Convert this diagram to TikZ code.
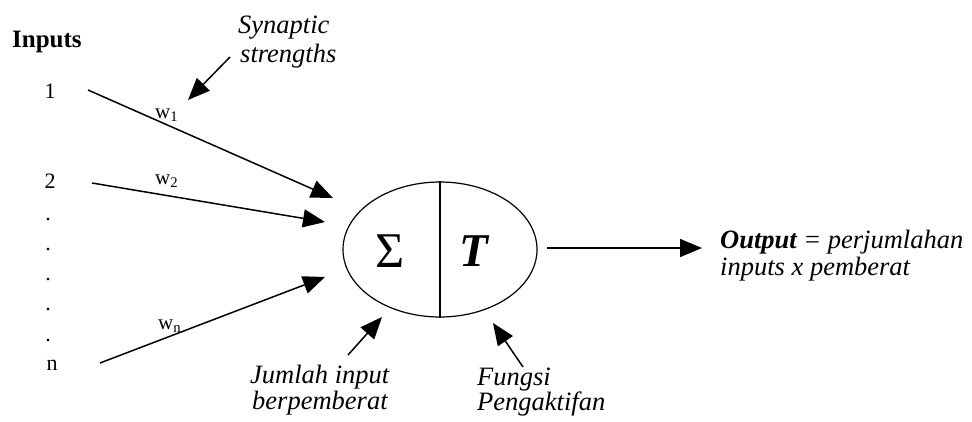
\documentclass[tikz,border=0pt]{standalone}
\usepackage{fontspec}
\setmainfont{Liberation Serif}
\usetikzlibrary{arrows.meta,shapes.geometric}
\begin{document}
\begin{tikzpicture}[x=1pt,y=-1pt,
  arr/.style={line width=1.5pt,-{Triangle[length=22pt,width=18pt]}},
  lbl/.style={font=\fontsize{26.5}{28}\selectfont\itshape,anchor=base west,inner sep=0pt},
  num/.style={font=\fontsize{22}{24}\selectfont,anchor=base,inner sep=0pt},
  wl/.style={font=\fontsize{21}{24}\selectfont,anchor=base west,inner sep=0pt}]
\useasboundingbox (0,0) rectangle (972,421);
\node[font=\fontsize{25}{26}\selectfont\bfseries,anchor=base west,inner sep=0pt] (inputs) at (12,47) {Inputs};
\node[num] (i1) at (50,98) {1};
\node[num] (i2) at (50,188) {2};
\foreach \y [count=\k] in {218,248,278,308,339}
  \node[num] (d\k) at (48,\y+2) {.};
\node[num] (in) at (52,370) {n};
\coordinate (a1s) at (88,90);
\coordinate (a1e) at (333,198);
\coordinate (a2s) at (92,183);
\coordinate (a2e) at (325,222);
\coordinate (ans) at (100,363);
\coordinate (ane) at (325,277);
\draw[arr] (a1s) -- (a1e);
\draw[arr] (a2s) -- (a2e);
\draw[arr] (ans) -- (ane);
\node[wl] (w1) at (155,118) {w\textsubscript{1}};
\node[wl] (w2) at (155,184) {w\textsubscript{2}};
\node[wl] (wn) at (158,329) {w\textsubscript{n}};
\node[lbl] (syn1) at (238,33) {Synaptic};
\node[lbl] (syn2) at (240,62) {strengths};
\coordinate (synS) at (230,57);
\coordinate (synE) at (188,100);
\draw[arr] (synS) -- (synE);
\node[draw,ellipse,line width=1.2pt,minimum width=194pt,minimum height=135pt,inner sep=0pt] (neuron) at (440,249.5) {};
\draw[line width=1.2pt] (neuron.north) -- (neuron.south);
\node[font=\fontsize{50}{52}\selectfont,inner sep=0pt] (sigma) at (390,251.5) {Σ};
\node[font=\fontsize{47}{48}\selectfont\bfseries\itshape,inner sep=0pt] (T) at (474,251.5) {T};
\coordinate (outS) at (547,248);
\coordinate (outE) at (702,248);
\draw[arr] (outS) -- (outE);
\node[lbl] (out1) at (720,248) {\textbf{Output} = perjumlahan};
\node[lbl] (out2) at (720,275) {inputs x pemberat};
\node[lbl] (jum1) at (250,383) {Jumlah input};
\node[lbl] (jum2) at (252,409) {berpemberat};
\coordinate (jumS) at (348,355);
\coordinate (jumE) at (382,317);
\draw[arr] (jumS) -- (jumE);
\node[lbl] (fun1) at (477,385) {Fungsi};
\node[lbl] (fun2) at (477,410) {Pengaktifan};
\coordinate (funS) at (523,367);
\coordinate (funE) at (493,323);
\draw[arr] (funS) -- (funE);
\end{tikzpicture}
\end{document}
